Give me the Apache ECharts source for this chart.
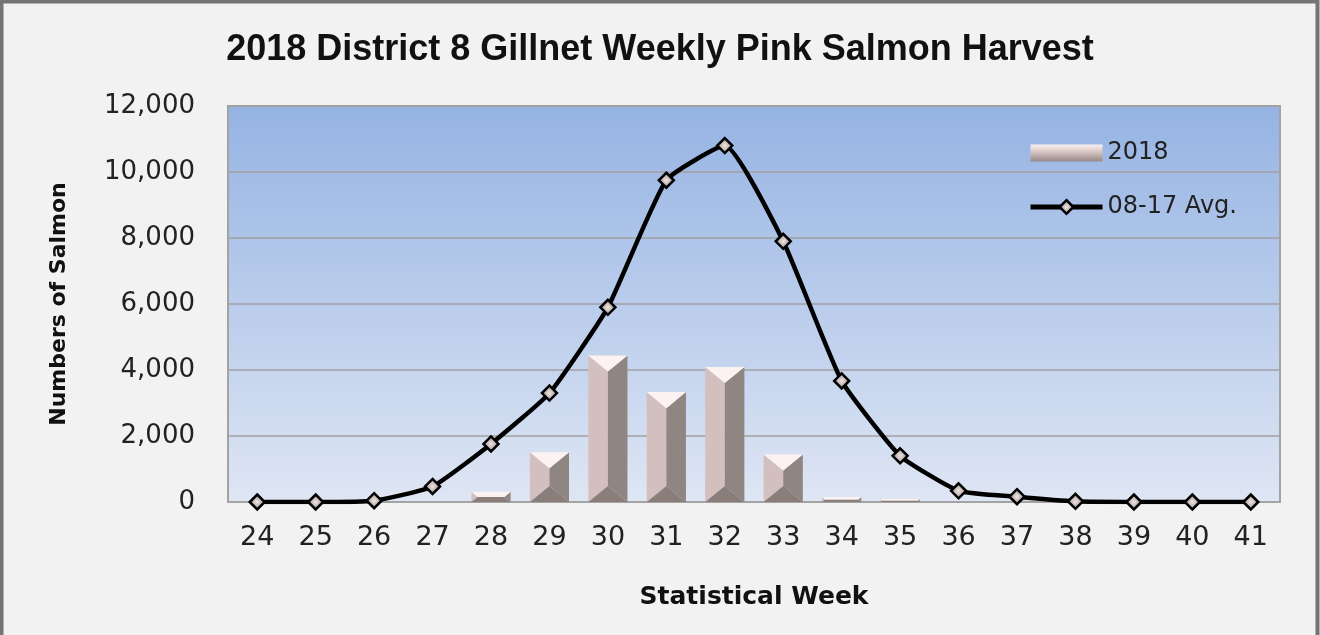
<!DOCTYPE html>
<html>
<head>
<meta charset="utf-8">
<script src="https://cdn.jsdelivr.net/npm/echarts@6/dist/echarts.min.js"></script>
<style>
html,body{margin:0;padding:0;background:#f2f2f2;}
#chart{width:1320px;height:635px;}
</style>
</head>
<body>
<div id="chart"></div>
<script>
var weeks = ['24','25','26','27','28','29','30','31','32','33','34','35','36','37','38','39','40','41'];
var harvest2018 = [0,0,0,0,310,1510,4440,3330,4090,1440,150,90,0,0,0,0,0,0];
var avg0817 = [0,0,40,470,1760,3300,5900,9750,10800,7900,3670,1400,340,160,20,0,0,0];
var yTicks = [0,2000,4000,6000,8000,10000,12000];

var chart = echarts.init(document.getElementById('chart'));

function renderBevelBar(params, api) {
  var idx = api.value(0), val = api.value(1);
  if (!val) return;
  var top = api.coord([idx, val]);
  var bot = api.coord([idx, 0]);
  var w = api.size([1, 0])[0] * 0.67;
  var x0 = top[0] - w / 2, x1 = top[0] + w / 2;
  var y0 = top[1], y1 = bot[1];
  var h = y1 - y0;
  var dy = Math.min(w * 0.41, h / 2);
  var dx = Math.min(w / 2, dy * 1.22);
  var xi0 = x0 + dx, xi1 = x1 - dx, yi0 = y0 + dy, yi1 = y1 - dy;
  function poly(pts, fill) {
    return {type: 'polygon', shape: {points: pts}, style: {fill: fill}};
  }
  var children = [
    poly([[x0,y0],[xi0,yi0],[xi0,yi1],[x0,y1]], '#d3bfbe'),
    poly([[x1,y0],[x1,y1],[xi1,yi1],[xi1,yi0]], '#8f8581'),
    poly([[x0,y1],[x1,y1],[xi1,yi1],[xi0,yi1]], '#8a7e7b'),
    poly([[x0,y0],[x1,y0],[xi1,yi0],[xi0,yi0]], '#fcf2f1')
  ];
  if (xi1 > xi0) {
    children.push({type: 'rect', shape: {x: xi0, y: yi0, width: xi1 - xi0, height: Math.max(0, yi1 - yi0)}, style: {fill: '#c9b6b4'}});
  }
  return {type: 'group', children: children};
}

var markerFill = {type: 'radial', x: 0.5, y: 0.5, r: 0.6, colorStops: [{offset: 0, color: '#efe5e2'}, {offset: 1, color: '#7f7370'}]};

var option = {
  backgroundColor: '#f2f2f2',
  animation: false,
  title: {
    text: '2018 District 8 Gillnet Weekly Pink Salmon Harvest',
    left: 'center',
    top: 27,
    textStyle: {fontFamily: 'Liberation Sans', fontWeight: 'bold', fontSize: 36, color: '#111'}
  },
  graphic: [{
    type: 'rect', z: 100, silent: true,
    shape: {x: 1.5, y: 1.5, width: 1316, height: 660},
    style: {fill: 'none', stroke: '#747474', lineWidth: 4}
  }],
  legend: {
    left: 1023,
    top: 136,
    orient: 'vertical',
    itemGap: 30,
    itemWidth: 72,
    itemHeight: 17,
    textStyle: {fontFamily: 'DejaVu Sans', fontSize: 24, color: '#222'},
    data: [
      {name: '2018', icon: 'rect', itemStyle: {color: {type: 'linear', x: 0, y: 0, x2: 0, y2: 1, colorStops: [{offset: 0, color: '#fbf1f0'}, {offset: 0.45, color: '#d6c4c2'}, {offset: 1, color: '#958985'}]}}},
      {name: '08-17 Avg.', lineStyle: {width: 5, color: '#000'}, itemStyle: {color: markerFill, borderColor: '#000', borderWidth: 2.5}}
    ]
  },
  grid: {
    left: 228, right: 40, top: 106, bottom: 133,
    show: true,
    borderColor: '#a3a3a3',
    borderWidth: 2,
    backgroundColor: {type: 'linear', x: 0, y: 0, x2: 0, y2: 1, colorStops: [{offset: 0, color: '#95b3e3'}, {offset: 1, color: '#dfe6f4'}]}
  },
  xAxis: {
    type: 'category',
    data: weeks,
    boundaryGap: true,
    name: 'Statistical Week',
    nameLocation: 'middle',
    nameGap: 83,
    nameTextStyle: {fontFamily: 'DejaVu Sans', fontWeight: 'bold', fontSize: 25, color: '#111'},
    axisTick: {show: false},
    axisLine: {lineStyle: {color: '#a3a3a3', width: 2}},
    axisLabel: {fontFamily: 'DejaVu Sans', fontSize: 27, color: '#222', margin: 22}
  },
  yAxis: {
    type: 'value',
    min: 0, max: 12000, interval: 2000,
    name: 'Numbers of Salmon',
    nameLocation: 'middle',
    nameRotate: 90,
    nameGap: 158,
    nameTextStyle: {fontFamily: 'DejaVu Sans', fontWeight: 'bold', fontSize: 22, color: '#111'},
    axisLine: {show: false},
    axisTick: {show: false},
    splitLine: {lineStyle: {color: '#a0a0a0', width: 1.5}},
    axisLabel: {
      fontFamily: 'DejaVu Sans', fontSize: 26, color: '#222', margin: 33,
      formatter: function (v) { return yTicks.indexOf(v) >= 0 ? v.toLocaleString('en-US') : ''; }
    }
  },
  series: [
    {
      name: '2018',
      type: 'custom',
      renderItem: renderBevelBar,
      itemStyle: {color: '#d3bfbe'},
      encode: {x: 0, y: 1},
      data: harvest2018.map(function (v, i) { return [i, v]; }),
      z: 2
    },
    {
      name: '08-17 Avg.',
      type: 'line',
      data: avg0817,
      smooth: 0.15,
      symbol: 'diamond',
      symbolSize: 15,
      lineStyle: {color: '#000', width: 4.5},
      itemStyle: {
        color: markerFill,
        borderColor: '#000',
        borderWidth: 2.5
      },
      z: 5
    }
  ]
};
chart.setOption(option);
</script>
</body>
</html>
